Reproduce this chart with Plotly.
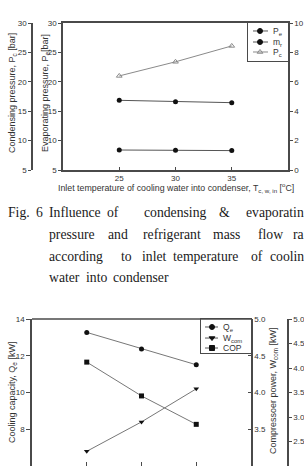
import plotly.graph_objects as go

# ---------------- data ----------------
temp = [25, 30, 35]
p_e = [8.4, 8.35, 8.3]        # evaporating pressure [bar]
m_r = [4.74, 4.65, 4.58]      # refrigerant mass flow (right axis 0-10)
p_c = [21.0, 23.4, 26.1]      # condensing pressure [bar]
q_e = [13.27, 12.37, 11.51]   # cooling capacity [kW]
w_com = [3.20, 3.60, 4.05]    # compressor power [kW]
cop = [4.12, 3.43, 2.85]      # COP
x_ticks = [25, 30, 35]

W, H = 304, 466
def px(x):
    return x / W
def py(y):
    return 1 - y / H

AX = "#4a4a4a"
TXT = "#333333"
SANS = "Liberation Sans"
SERIF = "Liberation Serif"
tickfont = dict(family=SANS, size=8, color=TXT)

fig = go.Figure()

# ---------------- top chart traces ----------------
fig.add_trace(go.Scatter(x=temp, y=p_e, xaxis="x", yaxis="y", mode="lines+markers",
                         line=dict(color="#555", width=1),
                         marker=dict(symbol="circle", size=5, color="#111")))
fig.add_trace(go.Scatter(x=temp, y=m_r, xaxis="x", yaxis="y3", mode="lines+markers",
                         line=dict(color="#555", width=1),
                         marker=dict(symbol="circle", size=5, color="#111")))
fig.add_trace(go.Scatter(x=temp, y=p_c, xaxis="x", yaxis="y2", mode="lines+markers",
                         line=dict(color="#8a8a8a", width=1),
                         marker=dict(symbol="triangle-up-open", size=5, color="#8a8a8a",
                                     line=dict(width=1))))

# ---------------- bottom chart traces ----------------
fig.add_trace(go.Scatter(x=temp, y=q_e, xaxis="x2", yaxis="y4", mode="lines+markers",
                         line=dict(color="#777", width=1),
                         marker=dict(symbol="circle", size=5, color="#111")))
fig.add_trace(go.Scatter(x=temp, y=w_com, xaxis="x2", yaxis="y5", mode="lines+markers",
                         line=dict(color="#777", width=1),
                         marker=dict(symbol="triangle-down", size=5, color="#111")))
fig.add_trace(go.Scatter(x=temp, y=cop, xaxis="x2", yaxis="y6", mode="lines+markers",
                         line=dict(color="#777", width=1),
                         marker=dict(symbol="square", size=5, color="#111")))

# ---------------- manual legends ----------------
top_leg = [("P<sub>e</sub>", "circle", "#111", "#555"),
           ("m<sub>r</sub>", "circle", "#111", "#555"),
           ("P<sub>c</sub>", "triangle-up-open", "#8a8a8a", "#8a8a8a")]
bot_leg = [("Q<sub>e</sub>", "circle", "#111", "#555"),
           ("W<sub>com</sub>", "triangle-down", "#111", "#555"),
           ("COP", "square", "#111", "#555")]

annotations = []

def add_legend(items, xa, ya, rows, x0, x1, xm, text_x, rows_px):
    for (lab, sym, mc, lc), r, rp in zip(items, rows, rows_px):
        fig.add_trace(go.Scatter(x=[x0, x1], y=[r, r], xaxis=xa, yaxis=ya, mode="lines",
                                 line=dict(color=lc, width=1), hoverinfo="skip"))
        fig.add_trace(go.Scatter(x=[xm], y=[r], xaxis=xa, yaxis=ya, mode="markers",
                                 marker=dict(symbol=sym, size=5, color=mc, line=dict(width=1, color=mc)),
                                 hoverinfo="skip"))
        annotations.append(dict(text=lab, x=px(text_x), y=py(rp), xref="paper", yref="paper",
                                xanchor="left", yanchor="middle", showarrow=False,
                                font=dict(family=SANS, size=8.5, color=TXT)))

add_legend(top_leg, "x3", "y7", [0.79, 0.5, 0.237], 0.125, 0.5, 0.3, 271, [31, 42, 52])
add_legend(bot_leg, "x4", "y8", [0.765, 0.44, 0.147], 0.08, 0.34, 0.22, 221, [327, 338, 348])

# ---------------- axis titles ----------------
def title(text, x, y, angle=-90, size=9):
    annotations.append(dict(text=text, x=px(x), y=py(y), xref="paper", yref="paper",
                            xanchor="center", yanchor="middle", showarrow=False, textangle=angle,
                            font=dict(family=SANS, size=size, color=TXT)))

title("Condensing pressure, P<sub>c</sub> [bar]", 12, 93)
title("Evaporating pressure, P<sub>e</sub>[bar]", 45, 93)
title("Inlet temperature of cooling water into condenser, T<sub>c, w, in</sub> [<sup>o</sup>C]",
      176, 187, angle=0, size=8.8)
title("Cooling capacity, Q<sub>e</sub> [kW]", 12, 393)
title("Compressoer power, W<sub>com</sub> [kW]", 273, 391)

# ---------------- caption (justified lines, clipped at the right edge as in the page) ----------------
caption_words = [
    ["Fig.", "6", "Influence", "of", "condensing", "&amp;", "evaporatin"],
    ["pressure", "and", "refrigerant", "mass", "flow", "ra"],
    ["according", "to", "inlet", "temperature", "of", "coolin"],
    ["water", "into", "condenser"],
]
caption_x = [[6, 34, 47, 105, 142, 217, 244],
             [47, 106, 141, 211, 256, 291],
             [47, 119, 140, 171, 249, 268],
             [47, 84, 111]]
caption_y = [212, 234, 256, 277]
for words, xs, yy in zip(caption_words, caption_x, caption_y):
    for w, xx in zip(words, xs):
        annotations.append(dict(text=w, x=px(xx), y=py(yy), xref="paper", yref="paper",
                                xanchor="left", yanchor="middle", showarrow=False,
                                font=dict(family=SERIF, size=13.7, color="#1a1a1a")))

# ---------------- layout ----------------
base_ax = dict(showgrid=False, zeroline=False, linecolor=AX, linewidth=1.5, tickcolor=AX,
               tickfont=tickfont, automargin=False, ticklen=3, tickwidth=1)
legend_ax = dict(showgrid=False, zeroline=False, range=[0, 1], showticklabels=False,
                 ticks="", showline=True, mirror=True, linecolor=AX, linewidth=1.2,
                 fixedrange=True, automargin=False)

fig.update_layout(
    template="none",
    width=W, height=H,
    margin=dict(l=0, r=0, t=0, b=0),
    paper_bgcolor="white", plot_bgcolor="rgba(0,0,0,0)",
    showlegend=False,
    annotations=annotations,
    xaxis=dict(base_ax, domain=[px(63), px(288)], range=[20, 40], tickvals=x_ticks,
               ticks="inside", showline=True, mirror=True, anchor="y"),
    yaxis=dict(base_ax, domain=[py(170), py(23)], range=[5, 30], dtick=5,
               ticks="outside", showline=True, mirror=True, anchor="x"),
    yaxis2=dict(base_ax, overlaying="y", anchor="free", position=px(32), side="left",
                range=[5, 30], dtick=5, ticks="outside", showline=True),
    yaxis3=dict(base_ax, overlaying="y", anchor="x", side="right", range=[0, 10], dtick=2,
                ticks="outside", showline=True),
    xaxis2=dict(base_ax, domain=[px(32), px(251)], range=[20, 40], tickvals=x_ticks,
                ticks="inside", ticklen=4, showline=False, anchor="y4", showticklabels=False),
    yaxis4=dict(base_ax, domain=[0, py(319)], range=[6, 14], dtick=2, ticks="outside",
                ticklen=4, showline=True, anchor="x2"),
    yaxis5=dict(base_ax, overlaying="y4", anchor="x2", side="right", range=[3, 5], dtick=0.5,
                tickformat=".1f", ticks="inside", showline=True),
    yaxis6=dict(base_ax, overlaying="y4", anchor="free", position=px(288), side="right",
                range=[2, 5], dtick=0.5, tickformat=".1f", ticks="outside", showline=True),
    xaxis3=dict(legend_ax, domain=[px(248), px(288)], anchor="y7"),
    yaxis7=dict(legend_ax, domain=[py(61), py(23)], anchor="x3"),
    xaxis4=dict(legend_ax, domain=[px(201), px(251)], anchor="y8"),
    yaxis8=dict(legend_ax, domain=[py(353), py(319)], anchor="x4"),
    shapes=[dict(type="line", xref="paper", yref="paper", x0=px(32), x1=px(251),
                 y0=py(319), y1=py(319), line=dict(color=AX, width=1.5))],
)

fig.write_html("out.html")
